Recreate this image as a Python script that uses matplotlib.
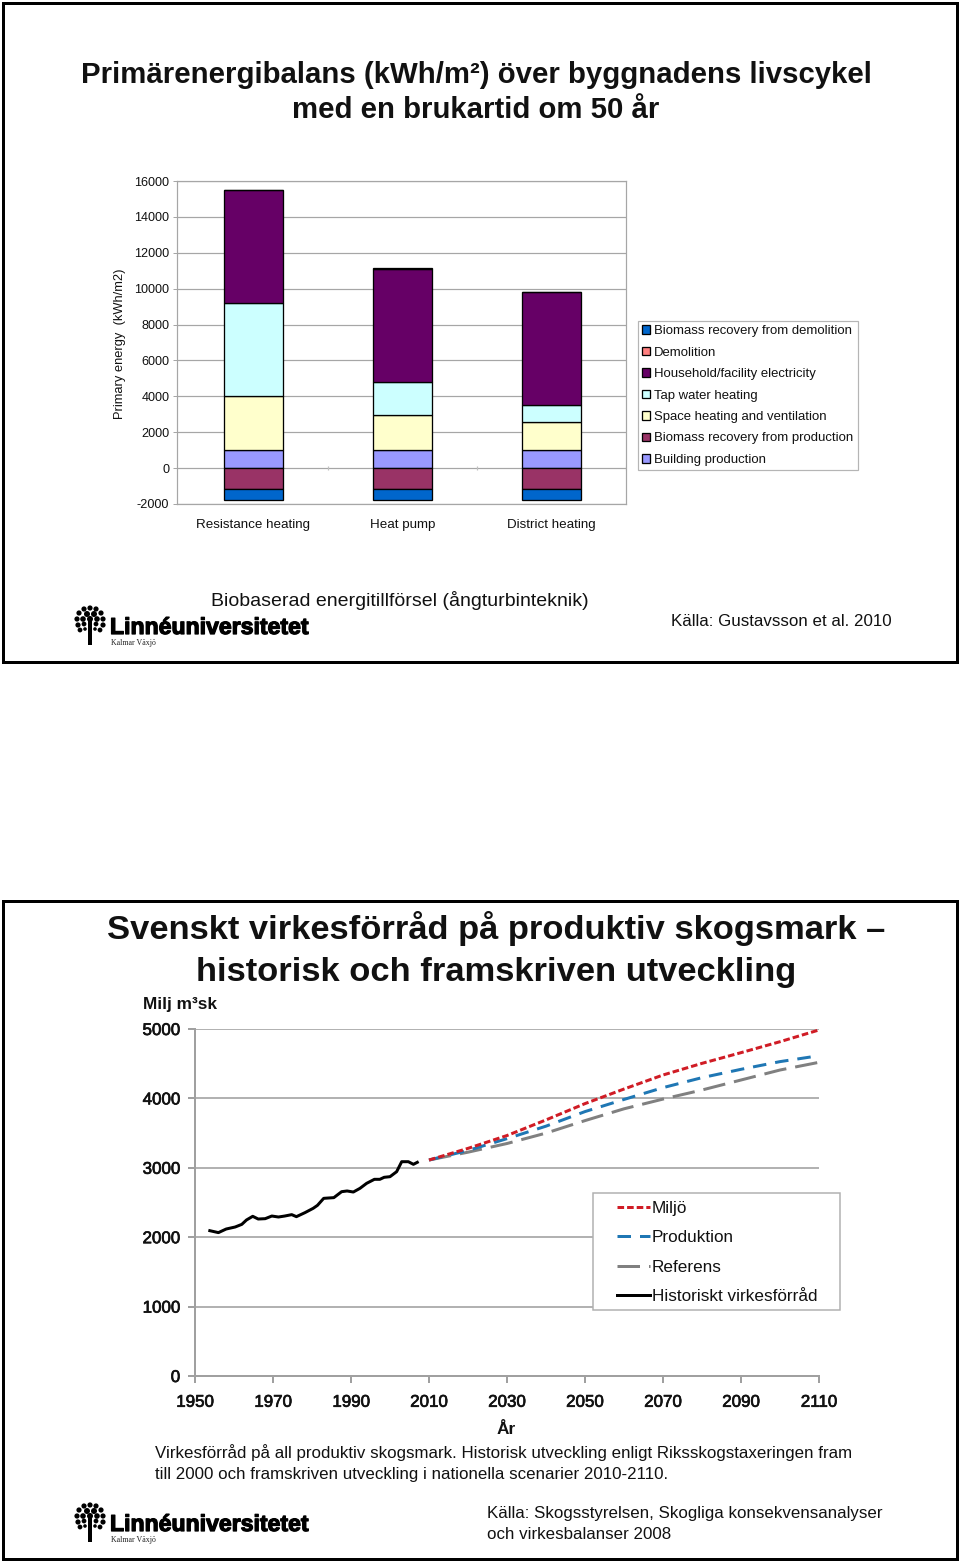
import matplotlib
matplotlib.use("Agg")
import matplotlib.pyplot as plt
import matplotlib.patheffects as pe
from matplotlib import font_manager as fm
from matplotlib.patches import Rectangle, Circle

plt.rcParams['font.family'] = ['Liberation Sans', 'DejaVu Sans']
plt.rcParams['axes.unicode_minus'] = False

W, H = 960, 1562
PX = 0.72

# ---- chart 1 data
categories = ["Resistance heating", "Heat pump", "District heating"]
building_production = [1000, 1000, 1000]
space_heating = [3030, 1950, 1580]
tap_water = [5170, 1850, 950]
household = [6300, 6300, 6290]
demolition = [20, 70, 20]
biomass_production = [-1180, -1180, -1180]
biomass_demolition = [-600, -600, -600]
y1_ticks = [-2000, 0, 2000, 4000, 6000, 8000, 10000, 12000, 14000, 16000]

pos_series = [("Building production", building_production, "#9999FF"),
              ("Space heating and ventilation", space_heating, "#FFFFCC"),
              ("Tap water heating", tap_water, "#CCFFFF"),
              ("Household/facility electricity", household, "#660066"),
              ("Demolition", demolition, "#FF8080")]
neg_series = [("Biomass recovery from production", biomass_production, "#993366"),
              ("Biomass recovery from demolition", biomass_demolition, "#0066CC")]
legend1_order = ["Biomass recovery from demolition", "Demolition",
                 "Household/facility electricity", "Tap water heating",
                 "Space heating and ventilation", "Biomass recovery from production",
                 "Building production"]

# ---- chart 2 data
hist_years = [1953.8, 1956, 1958, 1960.3, 1962, 1963.2, 1964.8, 1966.2, 1968, 1969.7, 1971.4,
              1973, 1974.8, 1976, 1978.2, 1980.3, 1981.4, 1983, 1985.6, 1987.6, 1989, 1990.6,
              1992.3, 1994, 1996, 1997.4, 1998.5, 2000, 2001.7, 2003, 2004.7, 2006, 2007]
hist_values = [2094, 2066, 2118, 2147, 2185, 2248, 2301, 2262, 2267, 2305, 2291,
               2305, 2325, 2296, 2354, 2416, 2459, 2560, 2570, 2656, 2666, 2651,
               2704, 2776, 2834, 2834, 2863, 2872, 2944, 3088, 3088, 3050, 3079]
future_years = [2010, 2020, 2030, 2040, 2050, 2060, 2070, 2080, 2090, 2100, 2110]
miljo = [3112, 3280, 3465, 3690, 3925, 4135, 4337, 4505, 4659, 4817, 4986]
produktion = [3112, 3250, 3420, 3600, 3810, 3985, 4155, 4299, 4419, 4530, 4615]
referens = [3112, 3225, 3350, 3500, 3680, 3850, 3990, 4121, 4265, 4409, 4520]
x2_ticks = [1950, 1970, 1990, 2010, 2030, 2050, 2070, 2090, 2110]
y2_ticks = [0, 1000, 2000, 3000, 4000, 5000]


def axes_px(fig, x0, y_top, x1, y_bot, **kw):
    return fig.add_axes([x0 / W, 1 - y_bot / H, (x1 - x0) / W, (y_bot - y_top) / H], **kw)


fig = plt.figure(figsize=(W / 100, H / 100), dpi=100, facecolor="white")

ov = fig.add_axes([0, 0, 1, 1], zorder=0)
ov.set_xlim(0, W)
ov.set_ylim(H, 0)
ov.axis("off")
for (y0, y1) in [(3, 662), (901, 1559)]:
    ov.add_patch(Rectangle((3, y0), 954, y1 - y0, fill=False, ec="black", lw=3 * PX))

title_kw = dict(ha="center", va="center", fontweight="bold", color="#111111")
ov.text(476, 75, "Primärenergibalans (kWh/m²) över byggnadens livscykel", fontsize=21.2, **title_kw)
ov.text(476, 110, "med en brukartid om 50 år", fontsize=21.2, **title_kw)
ov.text(496, 929, "Svenskt virkesförråd på produktiv skogsmark –", fontsize=24.8, **title_kw)
ov.text(496, 972, "historisk och framskriven utveckling", fontsize=24.8, **title_kw)

tk = dict(va="center", color="#111111")
ov.text(211, 600.5, "Biobaserad energitillförsel (ångturbinteknik)", fontsize=14.0, **tk)
ov.text(671, 621, "Källa: Gustavsson et al. 2010", fontsize=12.15, **tk)
ov.text(155, 1453, "Virkesförråd på all produktiv skogsmark. Historisk utveckling enligt Riksskogstaxeringen fram", fontsize=12.2, **tk)
ov.text(155, 1474, "till 2000 och framskriven utveckling i nationella scenarier 2010-2110.", fontsize=12.2, **tk)
ov.text(487, 1513.5, "Källa: Skogsstyrelsen, Skogliga konsekvensanalyser", fontsize=12.2, **tk)
ov.text(487, 1534.5, "och virkesbalanser 2008", fontsize=12.2, **tk)

installed = {f.name for f in fm.fontManager.ttflist}
narrow = "Liberation Sans Narrow" in installed


def logo(dy):
    ov.text(110, 634 + dy, "Linnéuniversitetet", fontsize=21 if narrow else 16.6, fontweight="bold",
            va="baseline", color="black",
            family="Liberation Sans Narrow" if narrow else "Liberation Sans",
            path_effects=[pe.withStroke(linewidth=0.9, foreground="black")])
    ov.text(111, 643 + dy, "Kalmar Växjö", fontsize=5.7, va="center", color="#222222",
            family="Liberation Serif")
    ov.plot([90, 90], [620 + dy, 645 + dy], color="black", lw=4 * PX, solid_capstyle="butt")
    for ox, oy, r in [(0, -16, 2.6), (-6, -15, 2.6), (6, -15, 2.6), (-11, -11, 2.6), (-3, -10, 3),
                      (4, -10, 3), (11, -11, 2.6), (-13, -5, 2.6), (-7, -5, 2.8), (0, -5, 3),
                      (7, -5, 2.8), (13, -5, 2.6), (-12, 1, 2.6), (-6, 0, 2.4), (6, 0, 2.4),
                      (13, 1, 2.6), (-10, 6, 2.4), (10, 6, 2.4), (-5, 5, 1.8), (5, 5, 1.8)]:
        ov.add_patch(Circle((90 + ox, 624 + dy + oy), r, fc="black", ec="none"))


logo(0)
logo(897)

# ---- chart 1
GRID1 = "#A6A6A6"
ax1 = axes_px(fig, 177, 181, 626, 504, zorder=2)
ax1.patch.set_alpha(0)
ax1.set_xlim(-0.513, 2.5)
ax1.set_ylim(-2000, 16000)
ax1.set_yticks(y1_ticks)
ax1.set_xticks(range(3), categories)
ax1.tick_params(axis="x", length=0, pad=10.7, labelsize=9.6, labelcolor="#111111")
ax1.tick_params(axis="y", length=3, width=PX, color=GRID1, pad=2.5, labelsize=9.1, labelcolor="#111111")
ax1.grid(axis="y", color=GRID1, lw=1.2 * PX, zorder=0)
ax1.set_axisbelow(True)
for s in ax1.spines.values():
    s.set_color(GRID1)
    s.set_linewidth(1.2 * PX)
ax1.vlines([0.5, 1.5, 2.5], -130, 130, color="#C0C0C0", lw=1.2 * PX, zorder=1)

handles = {}
bw = 0.395
bottom = [0, 0, 0]
for name, vals, col in pos_series:
    handles[name] = ax1.bar(range(3), vals, bw, bottom=bottom, color=col, ec="black", lw=1.3 * PX, zorder=3)
    bottom = [b + v for b, v in zip(bottom, vals)]
bottom = [0, 0, 0]
for name, vals, col in neg_series:
    handles[name] = ax1.bar(range(3), vals, bw, bottom=bottom, color=col, ec="black", lw=1.3 * PX, zorder=3)
    bottom = [b + v for b, v in zip(bottom, vals)]

ov.text(120, 344, "Primary energy  (kWh/m2)", rotation=90, ha="center", va="center",
        fontsize=9.3, color="#111111")

leg1 = ax1.legend([handles[n] for n in legend1_order], legend1_order,
                  loc="upper left", bbox_to_anchor=((638 - 177) / 449, (504 - 321) / 323),
                  fontsize=9.45, frameon=True, fancybox=False, edgecolor="#B5B5B5", framealpha=1,
                  handlelength=0.62, handleheight=0.62, handletextpad=0.3, labelspacing=0.72,
                  borderpad=0.32, borderaxespad=0)
leg1.get_frame().set_linewidth(1.2 * PX)
for t in leg1.get_texts():
    t.set_color("#111111")

# ---- chart 2
GRID2 = "#A0A0A0"
stroke = [pe.withStroke(linewidth=0.5, foreground="#111111")]
ax2 = axes_px(fig, 195, 1029, 819, 1376, zorder=2)
ax2.patch.set_alpha(0)
ax2.set_xlim(1950, 2110)
ax2.set_ylim(0, 5000)
ax2.set_xticks(x2_ticks)
ax2.set_yticks(y2_ticks)
ax2.tick_params(axis="both", length=5, width=2 * PX, color=GRID2, labelsize=12.2, labelcolor="#111111")
ax2.tick_params(axis="x", pad=8.5)
ax2.tick_params(axis="y", pad=5.7)
for lab in ax2.get_xticklabels() + ax2.get_yticklabels():
    lab.set_path_effects(stroke)
ax2.grid(axis="y", color=GRID2, lw=1.6 * PX, zorder=0)
ax2.set_axisbelow(True)
for side in ("top", "right"):
    ax2.spines[side].set_visible(False)
for side in ("left", "bottom"):
    ax2.spines[side].set_color(GRID2)
    ax2.spines[side].set_linewidth(2 * PX)

LW = 3 * PX
l_ref, = ax2.plot(future_years, referens, color="#808080", lw=LW, dashes=(7.5, 3), label="Referens", zorder=3)
l_prod, = ax2.plot(future_years, produktion, color="#1F77B4", lw=LW, dashes=(4.5, 3), label="Produktion", zorder=4)
l_mil, = ax2.plot(future_years, miljo, color="#D01C25", lw=LW, dashes=(2.2, 1), label="Miljö", zorder=5)
l_hist, = ax2.plot(hist_years, hist_values, color="black", lw=LW, label="Historiskt virkesförråd", zorder=5)

ax2.add_patch(Rectangle((593, 1193), 247, 117, transform=ov.transData, clip_on=False,
                        fc="white", ec="#B0B0B0", lw=1.5 * PX, zorder=9))
leg2 = ax2.legend([l_mil, l_prod, l_ref, l_hist],
                  ["Miljö", "Produktion", "Referens", "Historiskt virkesförråd"],
                  loc="upper left", bbox_to_anchor=((617 - 195) / 624, (1376 - 1201) / 347),
                  fontsize=12.3, frameon=False, handlelength=1.93, handletextpad=0.12,
                  labelspacing=0.84, borderpad=0, borderaxespad=0)
leg2.set_zorder(10)
for t in leg2.get_texts():
    t.set_color("#111111")

ov.text(143, 1004, "Milj m³sk", fontsize=12.4, fontweight="bold", va="center", color="#111111")
ov.text(506, 1429, "År", fontsize=12.4, fontweight="bold", ha="center", va="center", color="#111111")

fig.savefig("out.png", dpi=100, facecolor="white")
